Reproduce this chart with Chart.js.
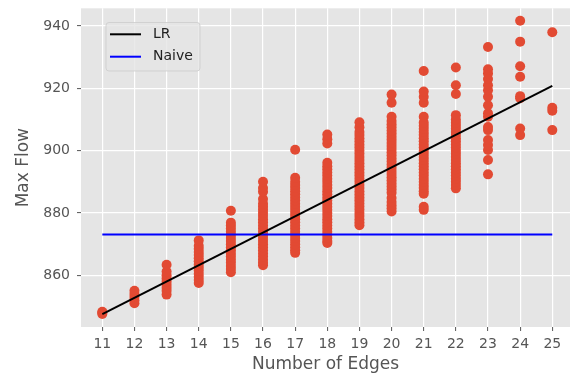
<!DOCTYPE html>
<html>
<head>
<meta charset="utf-8">
<script src="https://cdn.jsdelivr.net/npm/chart.js@4.4.1/dist/chart.umd.min.js"></script>
<style>
  html, body { margin: 0; padding: 0; background: #ffffff; }
  #c { display: block; }
</style>
</head>
<body>
<canvas id="c" width="570" height="377"></canvas>
<script>
// ---- data ----
const edges = [11, 12, 13, 14, 15, 16, 17, 18, 19, 20, 21, 22, 23, 24, 25];
const yTicks = [860, 880, 900, 920, 940];

const flow11 = [847.6, 848.0, 848.3];
const flow12 = [851.0, 852.0, 853.0, 854.0, 855.0];
const flow13 = [853.8, 855.0, 856.0, 857.0, 858.0, 859.0, 860.0, 861.2, 863.4];
const flow14 = [857.5, 858.5, 859.5, 860.5, 861.5, 862.5, 863.5, 864.5, 865.5, 866.5, 867.5, 868.5, 869.5, 871.2];
const flow15 = [861.0, 862.0, 863.0, 864.0, 865.0, 866.0, 867.0, 868.0, 869.0, 870.0, 871.0, 872.0, 873.0, 874.0, 875.0, 876.0, 876.9, 880.7];
const flow16 = [863.2, 864.0, 865.0, 866.0, 867.0, 868.0, 869.0, 870.0, 871.0, 872.0, 873.0, 874.0, 875.0, 876.0, 877.0, 878.0, 879.0, 880.0, 881.0, 882.0, 883.0, 884.5, 886.8, 888.0, 890.0];
const flow17 = [867.2, 868.0, 869.0, 870.0, 871.0, 872.0, 873.0, 874.0, 875.0, 876.0, 877.0, 878.0, 879.0, 880.0, 881.0, 882.0, 883.0, 884.0, 885.0, 886.0, 887.0, 888.0, 889.0, 890.0, 891.3, 900.3];
const flow18 = [870.4, 871.0, 872.0, 873.0, 874.0, 875.0, 876.0, 877.0, 878.0, 879.0, 880.0, 881.0, 882.0, 883.0, 884.0, 885.0, 886.0, 887.0, 888.0, 889.0, 890.0, 891.0, 892.0, 893.0, 894.0, 895.0, 896.1, 902.3, 903.7, 905.2];
const flow19 = [876.1, 877.0, 878.0, 879.0, 880.0, 881.0, 882.0, 883.0, 884.0, 885.0, 886.0, 887.0, 888.0, 889.0, 890.0, 891.0, 892.0, 893.0, 894.0, 895.0, 896.0, 897.0, 898.0, 899.0, 900.0, 901.0, 902.0, 903.0, 904.0, 905.0, 906.0, 907.5, 909.1];
const flow20 = [880.5, 881.5, 882.5, 883.5, 884.8, 886.5, 887.5, 888.5, 889.5, 890.5, 891.5, 892.5, 893.5, 894.5, 895.5, 896.5, 897.5, 898.5, 899.5, 900.5, 901.5, 902.5, 903.5, 904.5, 905.5, 906.5, 907.5, 908.5, 909.5, 910.9, 915.4, 918.0];
const flow21 = [881.0, 882.0, 886.2, 887.0, 888.0, 889.0, 890.0, 891.0, 892.0, 893.0, 894.0, 895.0, 896.0, 897.0, 898.0, 899.0, 900.0, 901.0, 902.0, 903.0, 904.0, 905.0, 906.0, 907.0, 908.0, 909.0, 910.9, 915.4, 917.3, 919.0, 925.6];
const flow22 = [887.9, 889.0, 890.0, 891.0, 892.0, 893.0, 894.0, 895.0, 896.0, 897.0, 898.0, 899.0, 900.0, 901.0, 902.0, 903.0, 904.0, 905.0, 906.0, 907.0, 908.0, 909.0, 910.0, 911.4, 918.2, 921.0, 926.7];
const flow23 = [892.4, 897.0, 900.2, 901.8, 903.4, 906.6, 907.6, 910.9, 912.0, 914.6, 917.3, 919.4, 921.0, 923.0, 924.8, 926.1, 933.3];
const flow24 = [905.0, 907.1, 916.8, 917.5, 923.7, 927.1, 935.0, 941.7];
const flow25 = [906.6, 912.8, 913.8, 938.0];

const lineX = [11, 25];
const lrLine = [847.5, 920.8];
const naiveLine = [873.1, 873.1];

// ---- build datasets ----
const flowsByEdge = [flow11, flow12, flow13, flow14, flow15, flow16, flow17, flow18, flow19, flow20, flow21, flow22, flow23, flow24, flow25];
const scatterPts = [];
edges.forEach((e, i) => flowsByEdge[i].forEach(v => scatterPts.push({ x: e, y: v })));
const lrPts = lineX.map((x, i) => ({ x: x, y: lrLine[i] }));
const naivePts = lineX.map((x, i) => ({ x: x, y: naiveLine[i] }));

Chart.defaults.font.family = "'DejaVu Sans', sans-serif";

const bgPlugin = {
  id: 'bg',
  beforeDraw(chart) {
    const { ctx, chartArea: a } = chart;
    ctx.save();
    ctx.fillStyle = '#ffffff';
    ctx.fillRect(0, 0, chart.width, chart.height);
    ctx.fillStyle = '#E5E5E5';
    ctx.fillRect(a.left, a.top, a.right - a.left, a.bottom - a.top);
    ctx.restore();
  }
};

const legendPlugin = {
  id: 'floatLegend',
  afterDraw(chart) {
    const { ctx } = chart;
    const items = chart.data.datasets.filter(d => d.inLegend);
    const x0 = 106, y0 = 22.5, w = 94, h = 48.5, r = 3;
    ctx.save();
    ctx.beginPath();
    ctx.moveTo(x0 + r, y0);
    ctx.lineTo(x0 + w - r, y0);
    ctx.quadraticCurveTo(x0 + w, y0, x0 + w, y0 + r);
    ctx.lineTo(x0 + w, y0 + h - r);
    ctx.quadraticCurveTo(x0 + w, y0 + h, x0 + w - r, y0 + h);
    ctx.lineTo(x0 + r, y0 + h);
    ctx.quadraticCurveTo(x0, y0 + h, x0, y0 + h - r);
    ctx.lineTo(x0, y0 + r);
    ctx.quadraticCurveTo(x0, y0, x0 + r, y0);
    ctx.closePath();
    ctx.fillStyle = 'rgba(229,229,229,0.8)';
    ctx.fill();
    ctx.strokeStyle = 'rgba(204,204,204,0.8)';
    ctx.lineWidth = 1;
    ctx.stroke();
    items.forEach((d, i) => {
      const y = 34.3 + i * 22.4;
      ctx.beginPath();
      ctx.moveTo(110, y);
      ctx.lineTo(141, y);
      ctx.strokeStyle = d.borderColor;
      ctx.lineWidth = 2;
      ctx.stroke();
      ctx.fillStyle = '#222222';
      ctx.font = "14px 'DejaVu Sans'";
      ctx.textBaseline = 'middle';
      ctx.textAlign = 'left';
      ctx.fillText(d.label, 153, y);
    });
    ctx.restore();
  }
};

new Chart(document.getElementById('c').getContext('2d'), {
  type: 'scatter',
  data: {
    datasets: [
      { type: 'line', label: 'LR', inLegend: true, data: lrPts, borderColor: '#000000', borderWidth: 2, pointRadius: 0, fill: false, order: 0 },
      { type: 'line', label: 'Naive', inLegend: true, data: naivePts, borderColor: '#0000ff', borderWidth: 2, pointRadius: 0, fill: false, order: 1 },
      { label: 'data', data: scatterPts, backgroundColor: '#E24A33', borderWidth: 0, pointRadius: 5, order: 2 }
    ]
  },
  options: {
    responsive: false,
    animation: false,
    events: [],
    layout: { autoPadding: false, padding: { top: 8.3, right: 0, left: 0, bottom: 0 } },
    plugins: { legend: { display: false }, tooltip: { enabled: false } },
    scales: {
      x: {
        type: 'linear',
        min: 10.337,
        max: 25.551,
        afterBuildTicks: s => { s.ticks = edges.map(v => ({ value: v })); },
        afterFit: s => { s.height = 50; s.paddingLeft = 0; s.paddingRight = 0; },
        grid: { color: '#ffffff', lineWidth: 1.2, drawTicks: true, tickLength: 4, tickColor: '#555555', tickWidth: 1 },
        border: { display: false },
        ticks: { color: '#555555', font: { size: 14 }, padding: 5, autoSkip: false, maxRotation: 0, callback: v => String(v) },
        title: { display: true, text: 'Number of Edges', color: '#555555', font: { size: 17 }, padding: { top: 0, bottom: 2 } }
      },
      y: {
        type: 'linear',
        min: 843.4,
        max: 945.7,
        afterBuildTicks: s => { s.ticks = yTicks.map(v => ({ value: v })); },
        afterFit: s => { s.width = 81; s.paddingTop = 0; s.paddingBottom = 0; },
        grid: { color: '#ffffff', lineWidth: 1.2, drawTicks: true, tickLength: 4, tickColor: '#555555', tickWidth: 1 },
        border: { display: false },
        ticks: { color: '#555555', font: { size: 14 }, padding: 7, callback: v => String(v) },
        title: { display: true, text: 'Max Flow', color: '#555555', font: { size: 17 }, padding: { top: 13, bottom: 0 } }
      }
    }
  },
  plugins: [bgPlugin, legendPlugin]
});
</script>
</body>
</html>
